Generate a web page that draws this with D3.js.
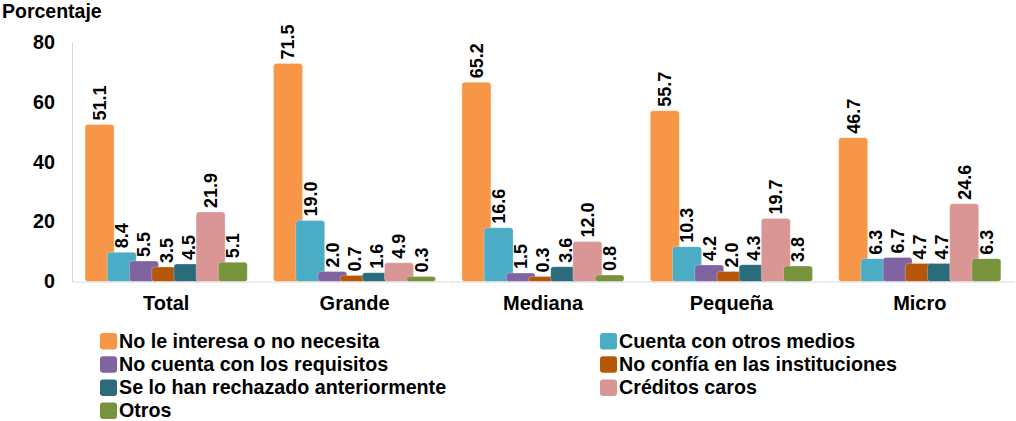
<!DOCTYPE html>
<html>
<head>
<meta charset="utf-8">
<script src="https://cdn.jsdelivr.net/npm/d3@7"></script>
<style>
  body { margin: 0; background: #fff; }
  text { font-family: 'Liberation Sans', Arial, sans-serif; font-weight: bold; fill: #000; }
</style>
</head>
<body>
<div id="chart-area"></div>
<script>
// chart data
const categories = ['Total', 'Grande', 'Mediana', 'Pequeña', 'Micro'];

const seriesNames = [
  'No le interesa o no necesita',
  'Cuenta con otros medios',
  'No cuenta con los requisitos',
  'No confía en las instituciones',
  'Se lo han rechazado anteriormente',
  'Créditos caros',
  'Otros',
];

const noInteresa = [51.1, 71.5, 65.2, 55.7, 46.7];
const otrosMedios = [8.4, 19.0, 16.6, 10.3, 6.3];
const requisitos = [5.5, 2.0, 1.5, 4.2, 6.7];
const noConfia = [3.5, 0.7, 0.3, 2.0, 4.7];
const rechazado = [4.5, 1.6, 3.6, 4.3, 4.7];
const caros = [21.9, 4.9, 12.0, 19.7, 24.6];
const otros = [5.1, 0.3, 0.8, 3.8, 6.3];

const seriesValues = [noInteresa, otrosMedios, requisitos, noConfia, rechazado, caros, otros];

const yTicks = [0, 20, 40, 60, 80];

const colors = ['#f79646', '#4bacc6', '#8064a2', '#b65708', '#2a6b7c', '#d99694', '#77933c'];

const width = 1016;
const height = 421;

const svg = d3
  .select('#chart-area')
  .append('svg')
  .attr('width', width)
  .attr('height', height);

// scales
const x0 = d3.scaleBand().domain(categories).range([72, 1014]).padding(0);
const step = 22.2;
const barW = 29;
const x1 = d3
  .scaleBand()
  .domain(seriesNames)
  .range([0, step * seriesNames.length]);
const blockW = step * (seriesNames.length - 1) + barW;
const y = d3.scaleLinear().domain([0, 80]).range([281.5, 42]);
const color = d3.scaleOrdinal().domain(seriesNames).range(colors);
const cap = 4; // bevel cap on top of bars

// axes
const yAxisCall = d3.axisLeft(y).tickValues(yTicks).tickSize(0).tickPadding(17);
const yAxis = svg.append('g').attr('transform', 'translate(72, 0)').call(yAxisCall);
yAxis.select('.domain').attr('stroke', '#d9d9d9');
yAxis.selectAll('text').style('font-size', '19.7px').attr('fill', '#000');

svg
  .append('text')
  .attr('x', 2)
  .attr('y', 18)
  .style('font-size', '19.5px')
  .text('Porcentaje');

// bars
const rows = [];
categories.forEach((c, ci) => {
  seriesNames.forEach((s, si) => {
    rows.push({ cat: c, name: s, value: seriesValues[si][ci] });
  });
});

const groupOffset = (x0.bandwidth() - blockW) / 2;
const barX = (d) => x0(d.cat) + groupOffset + x1(d.name);

svg
  .selectAll('.bar')
  .data(rows)
  .enter()
  .append('rect')
  .attr('class', 'bar')
  .attr('x', barX)
  .attr('y', (d) => y(d.value) - cap)
  .attr('width', barW)
  .attr('height', (d) => y(0) - y(d.value) + cap)
  .attr('rx', 3)
  .attr('fill', (d) => color(d.name))
  .attr('stroke', 'rgba(255,255,255,0.35)')
  .attr('stroke-width', 0.8);

svg
  .selectAll('.bar-label')
  .data(rows)
  .enter()
  .append('text')
  .attr('class', 'bar-label')
  .attr(
    'transform',
    (d) => `translate(${barX(d) + barW / 2}, ${y(d.value) - cap - 4}) rotate(-90)`
  )
  .attr('dy', '0.35em')
  .style('font-size', '18px')
  .text((d) => d.value.toFixed(1));

// x axis
const xAxisCall = d3.axisBottom(x0).tickSize(0).tickPadding(14);
const xAxis = svg.append('g').attr('transform', `translate(0, ${y(0)})`).call(xAxisCall);
xAxis.select('.domain').attr('stroke', '#d9d9d9');
xAxis.selectAll('text').style('font-size', '20px').attr('fill', '#000');

// legend
const legend = svg.append('g');
const item = legend
  .selectAll('.legend-item')
  .data(seriesNames)
  .enter()
  .append('g')
  .attr('class', 'legend-item')
  .attr('transform', (d, i) => `translate(${i % 2 ? 600 : 100}, ${333 + Math.floor(i / 2) * 23.2})`);

item
  .append('rect')
  .attr('width', 17)
  .attr('height', 16.5)
  .attr('rx', 3)
  .attr('fill', (d) => color(d));

item
  .append('text')
  .attr('x', 19)
  .attr('y', 14.5)
  .style('font-size', '19.7px')
  .text((d) => d);
</script>
</body>
</html>
